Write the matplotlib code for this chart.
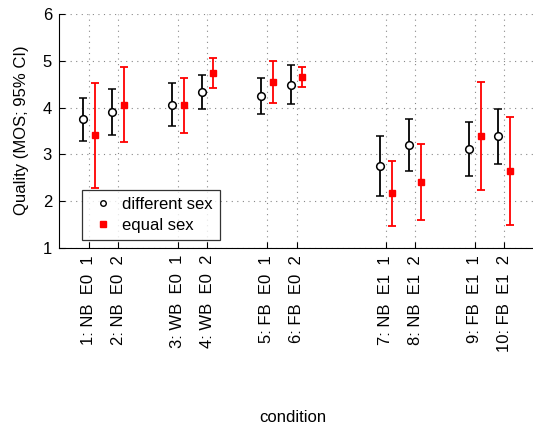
import matplotlib
matplotlib.use("Agg")
import matplotlib.pyplot as plt
from matplotlib.lines import Line2D
import numpy as np

plt.rcParams['font.family'] = ['Liberation Sans', 'DejaVu Sans']

positions = [1, 2, 4, 5, 7, 8, 11, 12, 14, 15]
tick_labels = ["1: NB  E0  1", "2: NB  E0  2", "3: WB  E0  1", "4: WB  E0  2",
               "5: FB  E0  1", "6: FB  E0  2", "7: NB  E1  1", "8: NB  E1  2",
               "9: FB  E1  1", "10: FB  E1  2"]

diff_mean = [3.75, 3.91, 4.06, 4.34, 4.25, 4.49, 2.76, 3.20, 3.12, 3.39]
diff_low  = [3.29, 3.42, 3.61, 3.98, 3.86, 4.08, 2.11, 2.65, 2.54, 2.79]
diff_high = [4.20, 4.40, 4.53, 4.69, 4.64, 4.90, 3.39, 3.76, 3.70, 3.97]

eq_mean = [3.41, 4.06, 4.05, 4.75, 4.55, 4.66, 2.17, 2.41, 3.39, 2.65]
eq_low  = [2.28, 3.26, 3.46, 4.42, 4.10, 4.43, 1.47, 1.60, 2.24, 1.50]
eq_high = [4.53, 4.86, 4.64, 5.07, 5.00, 4.87, 2.86, 3.22, 4.55, 3.80]

W, H = 533, 430
fig = plt.figure(figsize=(W / 100, H / 100), dpi=100)
ax = fig.add_axes([59 / W, 1 - 248 / H, 475 / W, 234 / H])

pos = np.array(positions, dtype=float)
dm = np.array(diff_mean); em = np.array(eq_mean)
d_err = [dm - np.array(diff_low), np.array(diff_high) - dm]
e_err = [em - np.array(eq_low), np.array(eq_high) - em]

ax.errorbar(pos - 0.2, dm, yerr=d_err, fmt='o', color='black', mfc='white',
            mec='black', ms=5.5, mew=1.1, ecolor='black', elinewidth=1.3,
            capsize=3, capthick=1.3, zorder=3)
ax.errorbar(pos + 0.2, em, yerr=e_err, fmt='s', color='red', mfc='red',
            mec='red', ms=5, ecolor='red', elinewidth=1.3,
            capsize=3, capthick=1.3, zorder=3)

ax.set_xlim(0, 16)
ax.set_ylim(1, 6)
ax.set_yticks([1, 2, 3, 4, 5, 6])
ax.set_xticks(positions)
ax.set_xticklabels(tick_labels, rotation=90, fontsize=12)
ax.tick_params(axis='y', labelsize=12)
ax.tick_params(direction='in', length=4, width=0.8, pad=5)
ax.grid(True, linestyle=(0, (1, 4)), color='#888888', linewidth=0.8)
ax.set_axisbelow(True)
for s in ['top', 'right']:
    ax.spines[s].set_visible(False)

fig.text(22 / W, 1 - 130 / H, 'Quality (MOS; 95% CI)', rotation=90,
         ha='center', va='center', fontsize=12)
fig.text(293 / W, 1 - 418 / H, 'condition', ha='center', va='center', fontsize=12)

handles = [Line2D([], [], linestyle='none', marker='o', mfc='white', mec='black',
                  ms=4, mew=1.0, label='different sex'),
           Line2D([], [], linestyle='none', marker='s', mfc='red', mec='red',
                  ms=4.2, label='equal sex')]
leg = ax.legend(handles=handles, loc='lower left',
                bbox_to_anchor=((82.3 - 59) / 475, (248 - 240) / 234),
                fontsize=12, frameon=True, fancybox=False, borderaxespad=0,
                handletextpad=0.37, borderpad=0.42, labelspacing=0.35,
                handlelength=1.62)
leg.get_frame().set_edgecolor('black')
leg.get_frame().set_linewidth(0.9)

fig.savefig('out.png', dpi=100)
